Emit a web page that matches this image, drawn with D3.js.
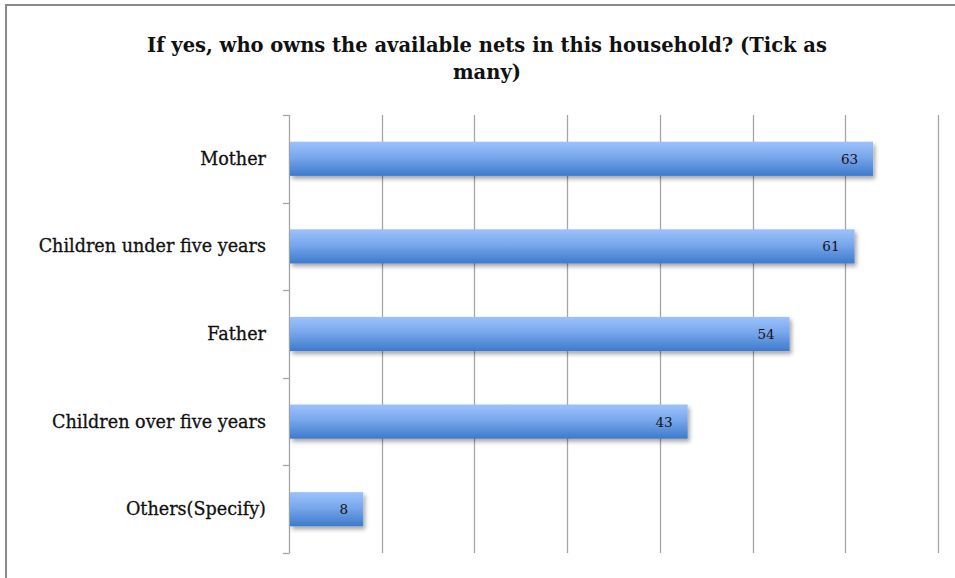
<!DOCTYPE html>
<html>
<head>
<meta charset="utf-8">
<script src="https://cdn.jsdelivr.net/npm/d3@7"></script>
<style>
  body { margin: 0; background: #fff; }
  svg { display: block; }
</style>
</head>
<body>
<div id="chart-container"></div>
<script>
// Chart data
const categories = ["Mother", "Children under five years", "Father", "Children over five years", "Others(Specify)"];
const values = [63, 61, 54, 43, 8];
const xTicks = [0, 10, 20, 30, 40, 50, 60, 70];
const titleLines = ["If yes, who owns the available nets in this household? (Tick as", "many)"];

const width = 955, height = 578;
const plotLeft = 289, plotRight = 938, plotTop = 115, plotBottom = 553;
const serif = "'DejaVu Serif', 'Liberation Serif', serif";

const svg = d3.select("#chart-container")
  .append("svg")
  .attr("width", width)
  .attr("height", height);

// gradient + shadow for bars
const defs = svg.append("defs");
const grad = defs.append("linearGradient")
  .attr("id", "barGrad")
  .attr("x1", 0).attr("y1", 0).attr("x2", 0).attr("y2", 1);
grad.append("stop").attr("offset", "0%").attr("stop-color", "#9cc2fb");
grad.append("stop").attr("offset", "45%").attr("stop-color", "#79a7ec");
grad.append("stop").attr("offset", "100%").attr("stop-color", "#3d7acb");

const shadow = defs.append("filter").attr("id", "shadow")
  .attr("x", "-10%").attr("y", "-30%").attr("width", "130%").attr("height", "180%");
shadow.append("feDropShadow")
  .attr("dx", 2).attr("dy", 3).attr("stdDeviation", 2)
  .attr("flood-color", "#000").attr("flood-opacity", 0.35);

// outer frame (top and left edges only visible)
svg.append("line")
  .attr("x1", 5).attr("x2", width).attr("y1", 5).attr("y2", 5)
  .attr("stroke", "#8a8a8a").attr("stroke-width", 2);
svg.append("line")
  .attr("x1", 6).attr("x2", 6).attr("y1", 5).attr("y2", height)
  .attr("stroke", "#8a8a8a").attr("stroke-width", 2);

// title
svg.append("text")
  .attr("x", 487)
  .attr("y", 52)
  .attr("text-anchor", "middle")
  .attr("font-family", serif)
  .attr("font-weight", "bold")
  .attr("font-size", "19.5px")
  .attr("fill", "#111")
  .selectAll("tspan")
  .data(titleLines)
  .enter()
  .append("tspan")
  .attr("x", 487)
  .attr("dy", (d, i) => i === 0 ? 0 : 27)
  .text(d => d);

const xScale = d3.scaleLinear()
  .domain([0, 70])
  .range([plotLeft, plotRight]);

const yScale = d3.scaleBand()
  .domain(categories)
  .range([plotTop, plotBottom])
  .paddingInner(0.61)
  .paddingOuter(0.305);

// vertical gridlines
svg.append("g")
  .selectAll("line")
  .data(xTicks.slice(1))
  .enter()
  .append("line")
  .attr("x1", d => Math.round(xScale(d)) + 0.5)
  .attr("x2", d => Math.round(xScale(d)) + 0.5)
  .attr("y1", plotTop)
  .attr("y2", plotBottom)
  .attr("stroke", "#a6a6a6")
  .attr("stroke-width", 1.3);

// category axis with tick marks at band boundaries
const boundaries = d3.range(categories.length + 1).map(i => plotTop + i * (plotBottom - plotTop) / categories.length);
svg.append("line")
  .attr("x1", plotLeft + 0.5).attr("x2", plotLeft + 0.5)
  .attr("y1", plotTop).attr("y2", plotBottom)
  .attr("stroke", "#a6a6a6").attr("stroke-width", 1.3);
svg.append("g")
  .selectAll("line")
  .data(boundaries)
  .enter()
  .append("line")
  .attr("x1", plotLeft - 6)
  .attr("x2", plotLeft + 0.5)
  .attr("y1", d => Math.round(d) + 0.5)
  .attr("y2", d => Math.round(d) + 0.5)
  .attr("stroke", "#a6a6a6")
  .attr("stroke-width", 1.3);

// bars
svg.append("g")
  .selectAll("rect")
  .data(values)
  .enter()
  .append("rect")
  .attr("x", plotLeft + 1)
  .attr("y", (d, i) => yScale(categories[i]))
  .attr("width", d => xScale(d) - plotLeft - 1)
  .attr("height", yScale.bandwidth())
  .attr("fill", "url(#barGrad)")
  .attr("filter", "url(#shadow)");

// value labels
svg.append("g")
  .selectAll("text")
  .data(values)
  .enter()
  .append("text")
  .attr("x", d => xScale(d) - 15)
  .attr("y", (d, i) => yScale(categories[i]) + yScale.bandwidth() / 2 + 5)
  .attr("text-anchor", "end")
  .attr("font-family", serif)
  .attr("font-size", "13.5px")
  .attr("fill", "#111")
  .text(d => d);

// category labels
svg.append("g")
  .selectAll("text")
  .data(categories)
  .enter()
  .append("text")
  .attr("x", 266)
  .attr("y", d => yScale(d) + yScale.bandwidth() / 2 + 6)
  .attr("text-anchor", "end")
  .attr("font-family", serif)
  .attr("font-size", "17.6px")
  .attr("fill", "#111")
  .attr("stroke", "#111")
  .attr("stroke-width", 0.3)
  .text(d => d);
</script>
</body>
</html>
